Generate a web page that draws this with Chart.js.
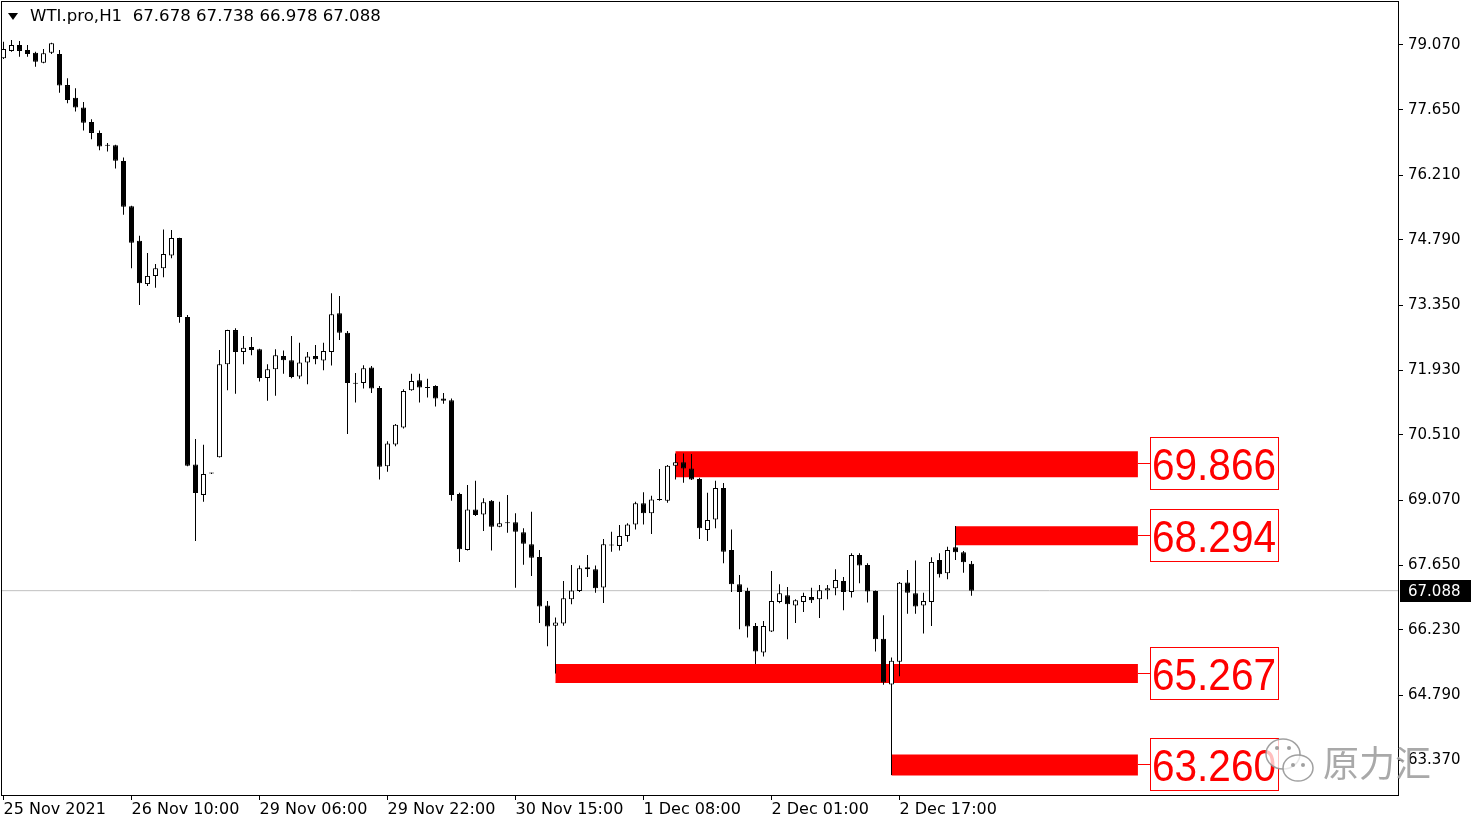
<!DOCTYPE html>
<html>
<head>
<meta charset="utf-8">
<title>WTI.pro,H1</title>
<script src="https://cdn.jsdelivr.net/npm/chart.js@4.4.0/dist/chart.umd.min.js"></script>
<style>
  html, body { margin: 0; padding: 0; background: #fff; }
  #wrap { width: 1481px; height: 827px; }
</style>
</head>
<body>
<div id="wrap"><canvas id="chart" width="1481" height="827"></canvas></div>
<script>
// WTI.pro, H1 candles (25 Nov 2021 - 3 Dec 2021)

const symbolTitle = 'WTI.pro,H1  67.678 67.738 66.978 67.088';

const opens = [
  78.78, 78.94, 79.07, 78.96, 78.90, 78.68, 78.90, 78.87, 78.19, 77.91,
  77.70, 77.38, 77.14, 76.88, 76.87, 76.52, 75.53, 74.77, 73.82, 74.00,
  74.17, 74.45, 74.83, 73.10, 69.86, 69.19, 69.66, 70.02, 72.06, 72.81,
  72.33, 72.44, 72.39, 71.76, 71.95, 72.24, 72.15, 71.79, 72.10, 72.24,
  72.14, 72.33, 73.18, 72.75, 71.65, 71.65, 71.99, 71.54, 69.82, 70.30,
  70.67, 71.49, 71.71, 71.56, 71.58, 71.31, 71.27, 69.21, 67.98, 68.87,
  68.76, 69.06, 68.49, 68.59, 68.59, 68.37, 68.11, 67.83, 66.76, 66.32,
  66.37, 66.90, 67.08, 67.60, 67.56, 67.16, 68.10, 68.07, 68.29, 68.54,
  69.01, 68.79, 69.09, 69.06, 69.83, 69.91, 69.77, 69.54, 68.42, 68.65,
  69.34, 67.98, 67.23, 67.08, 66.31, 65.73, 66.19, 66.84, 66.99, 66.76,
  66.84, 66.95, 66.90, 67.09, 67.14, 67.30, 67.06, 67.87, 67.65, 67.08,
  66.03, 65.03, 65.53, 67.27, 67.03, 66.76, 66.84, 67.76, 67.47, 68.04,
  67.93, 67.678
];
const highs = [
  79.14, 79.18, 79.16, 79.07, 78.92, 78.98, 79.12, 78.96, 78.34, 78.12,
  77.82, 77.44, 77.19, 76.92, 76.88, 76.60, 75.54, 74.88, 74.50, 74.26,
  75.02, 75.01, 74.84, 73.14, 70.42, 70.29, 69.68, 72.37, 72.82, 72.85,
  72.68, 72.66, 72.40, 72.06, 72.39, 72.36, 72.68, 72.53, 72.33, 72.48,
  72.53, 73.62, 73.56, 72.79, 71.87, 72.04, 72.02, 71.58, 70.37, 70.75,
  71.51, 71.85, 71.85, 71.74, 71.60, 71.43, 71.31, 69.24, 69.41, 69.50,
  69.12, 69.08, 69.04, 69.19, 68.79, 68.46, 68.82, 67.98, 66.86, 66.50,
  67.30, 67.65, 67.64, 67.87, 67.64, 68.22, 68.38, 68.53, 68.57, 69.04,
  69.25, 69.17, 69.76, 69.85, 70.10, 70.10, 70.09, 69.57, 69.24, 69.50,
  69.45, 68.43, 67.43, 67.15, 66.38, 66.42, 67.52, 67.23, 67.17, 66.90,
  67.04, 67.15, 67.21, 67.21, 67.56, 67.39, 67.91, 67.91, 67.69, 67.09,
  66.55, 65.62, 67.28, 67.54, 67.75, 67.04, 67.82, 67.91, 68.05, 68.51,
  67.96, 67.738
];
const lows = [
  78.76, 78.92, 78.81, 78.81, 78.59, 78.67, 78.87, 78.02, 77.79, 77.61,
  77.19, 77.00, 76.76, 76.73, 76.36, 75.34, 74.17, 73.36, 73.78, 73.74,
  73.97, 74.39, 72.97, 69.82, 68.18, 69.04, 69.65, 70.01, 71.49, 71.41,
  72.06, 72.26, 71.68, 71.26, 71.37, 71.85, 71.75, 71.74, 71.62, 72.06,
  71.93, 72.03, 72.59, 70.53, 71.22, 71.53, 71.43, 69.53, 69.70, 70.26,
  70.65, 71.48, 71.22, 71.33, 71.13, 71.19, 69.06, 67.72, 67.97, 68.73,
  68.40, 67.97, 68.48, 68.36, 67.15, 67.66, 67.41, 66.38, 65.87, 65.27,
  66.32, 66.79, 67.06, 67.39, 67.04, 66.82, 67.94, 67.97, 68.16, 68.43,
  68.54, 68.33, 69.06, 69.02, 69.53, 69.46, 69.52, 68.22, 68.18, 68.46,
  67.69, 67.06, 66.24, 66.06, 65.48, 65.64, 66.18, 66.81, 66.02, 66.38,
  66.62, 66.82, 66.49, 66.90, 66.99, 66.66, 66.94, 67.25, 66.83, 65.75,
  65.02, 63.04, 65.21, 66.58, 66.58, 66.15, 66.31, 67.38, 67.34, 67.76,
  67.48, 66.978
];
const closes = [
  78.98, 79.07, 78.94, 78.87, 78.70, 78.89, 79.11, 78.18, 77.86, 77.70,
  77.36, 77.14, 76.84, 76.86, 76.53, 75.52, 74.73, 73.84, 74.00, 74.17,
  74.48, 74.83, 73.10, 69.83, 69.23, 69.65, 69.67, 72.06, 72.81, 72.33,
  72.42, 72.37, 71.76, 71.95, 72.26, 72.15, 71.78, 72.10, 72.23, 72.17,
  72.35, 73.16, 72.75, 71.65, 71.63, 71.97, 71.53, 69.81, 70.32, 70.73,
  71.47, 71.69, 71.55, 71.54, 71.31, 71.26, 69.19, 68.00, 68.87, 68.75,
  69.03, 68.49, 68.57, 68.57, 68.38, 68.12, 67.81, 66.74, 66.30, 66.39,
  66.92, 67.09, 67.58, 67.56, 67.14, 68.11, 68.08, 68.29, 68.54, 69.01,
  68.79, 69.09, 69.08, 69.83, 69.91, 69.77, 69.53, 68.46, 68.64, 69.34,
  67.94, 67.23, 67.06, 66.30, 65.75, 66.31, 66.86, 67.03, 66.79, 66.88,
  66.97, 66.88, 67.10, 67.14, 67.32, 67.06, 67.87, 67.64, 67.07, 66.02,
  65.07, 65.55, 67.26, 67.04, 66.74, 66.86, 67.72, 67.45, 67.98, 67.93,
  67.71, 67.088
];

// time axis labels (one every 16 bars)
const xTickIndex = [0, 16, 32, 48, 64, 80, 96, 112];
const xTickLabels = ['25 Nov 2021', '26 Nov 10:00', '29 Nov 06:00', '29 Nov 22:00',
  '30 Nov 15:00', '1 Dec 08:00', '2 Dec 01:00', '2 Dec 17:00'];

// price axis labels
const yTicks = [79.07, 77.65, 76.21, 74.79, 73.35, 71.93, 70.51, 69.07, 67.65, 66.23, 64.79, 63.37];

// drawn levels: price, bar where the zone starts, bar where it ends
const levels = [69.866, 68.294, 65.267, 63.260];
const levelStart = [84, 119, 69, 111];
const levelEnd = 141.8;

const lastPrice = closes[closes.length - 1];

// styles
const bandThickness = [26, 19, 19, 21];
const red = '#ff0000';

// Build the candle datasets
const bodies = opens.map((o, i) => ({ x: i, y: [o, closes[i]] }));
const wicks = lows.map((l, i) => ({ x: i, y: [l, highs[i]] }));

const datasets = [
  {
    type: 'bar', label: 'body', data: bodies,
    backgroundColor: ctx => closes[ctx.dataIndex] >= opens[ctx.dataIndex] ? '#ffffff' : '#000000',
    borderColor: '#000000', borderWidth: 1, borderSkipped: false,
    barThickness: 5, maxBarThickness: 5, minBarLength: 1,
    grouped: false, inflateAmount: 0, order: 0
  },
  {
    type: 'bar', label: 'wick', data: wicks,
    backgroundColor: '#000000', borderWidth: 0,
    barThickness: 1, maxBarThickness: 1, minBarLength: 1,
    grouped: false, inflateAmount: 0, order: 1
  }
];

// red zones, drawn as thick flat lines
levels.forEach((lv, k) => {
  datasets.push({
    type: 'line', label: 'level ' + lv,
    data: [{ x: levelStart[k], y: lv }, { x: levelEnd, y: lv }],
    borderColor: red, borderWidth: bandThickness[k], borderCapStyle: 'butt',
    pointRadius: 0, order: 2
  });
});

// bid line
datasets.push({
  type: 'line', label: 'bid',
  data: [{ x: -1, y: lastPrice }, { x: 200, y: lastPrice }],
  borderColor: '#c0c0c0', borderWidth: 1, pointRadius: 0, order: 3
});

// Frame, level boxes, price tag, title and watermark
const overlay = {
  id: 'overlay',
  afterDraw(chart) {
    const { ctx, chartArea: a, scales: { x, y } } = chart;
    ctx.save();

    // frame round the plot
    ctx.strokeStyle = '#000';
    ctx.lineWidth = 1;
    ctx.strokeRect(a.left - 0.5, a.top - 0.5, a.right - a.left + 1, a.bottom - a.top + 1);

    // level labels
    const xe = Math.round(x.getPixelForValue(levelEnd));
    levels.forEach(lv => {
      const yc = y.getPixelForValue(lv);
      const yl = Math.round(yc) - 0.5;
      ctx.strokeStyle = red;
      ctx.beginPath();
      ctx.moveTo(xe, yl);
      ctx.lineTo(xe + 12, yl);
      ctx.stroke();
      ctx.strokeRect(xe + 12.5, Math.round(yc - 27) + 0.5, 128, 52);
      ctx.fillStyle = red;
      ctx.font = '44px "Liberation Sans", Arial, sans-serif';
      ctx.textAlign = 'left';
      ctx.textBaseline = 'alphabetic';
      ctx.fillText(lv.toFixed(3), xe + 14, yc + 16, 124);
    });

    // current price tag
    const yp = y.getPixelForValue(lastPrice);
    ctx.fillStyle = '#000';
    ctx.fillRect(a.right + 2, Math.round(yp - 11), 71, 22);
    ctx.fillStyle = '#fff';
    ctx.font = '15px "DejaVu Sans", sans-serif';
    ctx.textBaseline = 'middle';
    ctx.fillText(lastPrice.toFixed(3), a.right + 10, yp + 1);

    // title
    ctx.fillStyle = '#000';
    ctx.beginPath();
    ctx.moveTo(8, 13);
    ctx.lineTo(18, 13);
    ctx.lineTo(13, 20);
    ctx.closePath();
    ctx.fill();
    ctx.font = '16.6px "DejaVu Sans", sans-serif';
    ctx.textBaseline = 'middle';
    ctx.fillText(symbolTitle, 30, 17);

    // watermark
    ctx.lineWidth = 1.5;
    ctx.strokeStyle = 'rgba(150,150,150,0.9)';
    ctx.fillStyle = 'rgba(255,255,255,0.75)';
    ctx.beginPath();
    ctx.ellipse(1283, 754, 17, 15, 0, 0, Math.PI * 2);
    ctx.fill();
    ctx.stroke();
    ctx.beginPath();
    ctx.ellipse(1298, 768, 15, 13, 0, 0, Math.PI * 2);
    ctx.fill();
    ctx.stroke();
    ctx.fillStyle = 'rgba(150,150,150,0.9)';
    [[1277, 748], [1289, 748], [1293, 765], [1303, 765]].forEach(p => {
      ctx.beginPath();
      ctx.arc(p[0], p[1], 2, 0, Math.PI * 2);
      ctx.fill();
    });
    ctx.fillStyle = 'rgba(160,160,160,0.9)';
    ctx.font = '36px "Noto Sans CJK SC", sans-serif';
    ctx.textBaseline = 'alphabetic';
    ctx.fillText('原力汇', 1323, 777);

    ctx.restore();
  }
};

const chart = new Chart(document.getElementById('chart'), {
  type: 'bar',
  data: { datasets },
  options: {
    responsive: false,
    animation: false,
    devicePixelRatio: 1,
    layout: { padding: { left: 2, top: 2, right: 0, bottom: 0 } },
    plugins: { legend: { display: false }, tooltip: { enabled: false } },
    scales: {
      x: {
        type: 'linear', position: 'bottom', offset: false,
        min: -0.1875, max: 174.3125,
        afterBuildTicks: s => { s.ticks = xTickIndex.map(v => ({ value: v })); },
        afterFit: s => { s.height = 32; s.paddingLeft = 0; s.paddingRight = 0; },
        ticks: {
          autoSkip: false, maxRotation: 0, minRotation: 0, align: 'start', padding: 0,
          color: '#000', font: { family: 'DejaVu Sans', size: 16 },
          callback: v => xTickLabels[xTickIndex.indexOf(v)]
        },
        grid: { offset: false, drawOnChartArea: false, drawTicks: true, tickLength: 5, color: '#000' },
        border: { display: false }
      },
      y: {
        type: 'linear', position: 'right',
        min: 62.6015, max: 80.014,
        afterBuildTicks: s => { s.ticks = yTicks.map(v => ({ value: v })); },
        afterFit: s => { s.width = 83; s.paddingTop = 0; s.paddingBottom = 0; },
        ticks: {
          padding: 5, color: '#000', font: { family: 'DejaVu Sans', size: 15 },
          callback: v => Number(v).toFixed(3)
        },
        grid: { drawOnChartArea: false, drawTicks: true, tickLength: 5, color: '#000' },
        border: { display: false }
      }
    }
  },
  plugins: [overlay]
});
</script>
</body>
</html>
